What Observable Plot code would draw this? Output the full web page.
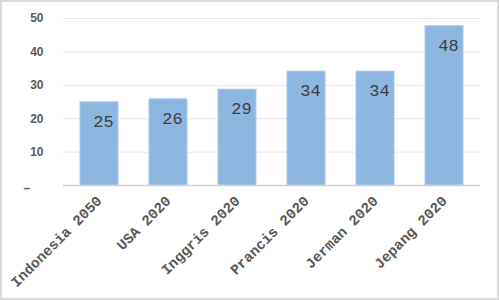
<!DOCTYPE html>
<html>
<head>
<meta charset="utf-8">
<script src="https://cdn.jsdelivr.net/npm/d3@7"></script>
<script src="https://cdn.jsdelivr.net/npm/@observablehq/plot@0.6"></script>
<style>
  html, body { margin: 0; padding: 0; background: #fff; }
  #wrap { position: relative; width: 499px; height: 300px; overflow: hidden; }
  #border { position: absolute; left: 0; top: 0; width: 499px; height: 300px; box-sizing: border-box; border: 2px solid #d9d9d9; pointer-events: none; }
  svg { display: block; }
</style>
</head>
<body>
<div id="wrap"><div id="chart"></div><div id="border"></div></div>
<script>
const categories = ["Indonesia 2050", "USA 2020", "Inggris 2020", "Prancis 2020", "Jerman 2020", "Jepang 2020"];
const values = [24.9, 25.8, 28.7, 34.1, 34.1, 47.7];
const yTicks = [10, 20, 30, 40, 50];
const zeroLabel = "–";

const data = categories.map((c, i) => ({cat: c, val: values[i]}));

const chart = Plot.plot({
  width: 499,
  height: 300,
  marginLeft: 63,
  marginRight: 19,
  marginTop: 18,
  marginBottom: 115,
  style: {background: "transparent", overflow: "visible"},
  x: {domain: categories, paddingInner: 0.45, paddingOuter: 0.225, label: null},
  y: {domain: [0, 50], label: null},
  marks: [
    Plot.gridY(yTicks, {stroke: "#e8e8e8", strokeOpacity: 1, strokeWidth: 1}),
    Plot.barY(data, {x: "cat", y: "val", fill: "#8db7e1", stroke: "#a9c9ea", strokeWidth: 1}),
    Plot.ruleY([0], {stroke: "#d0d0d0", strokeWidth: 1.5}),
    Plot.text(data, {x: "cat", y: "val", text: d => String(Math.round(d.val)), dy: 19, dx: 4,
      fontFamily: "Liberation Mono, monospace", fontSize: 17, fill: "#404040"}),
    Plot.axisY(yTicks, {tickSize: 0, tickPadding: 20, fontFamily: "Liberation Sans, Arial, sans-serif",
      fontSize: 12, fontWeight: "bold", fill: "#595959", label: null}),
    Plot.text([0], {y: d => d, frameAnchor: "left", dx: -40, dy: 3, text: () => zeroLabel, textAnchor: "start",
      fontFamily: "Liberation Sans, Arial, sans-serif", fontSize: 12, fontWeight: "bold", fill: "#595959"}),
    Plot.axisX({tickSize: 0, tickPadding: 13, tickRotate: -45, fontFamily: "Liberation Mono, monospace",
      fontSize: 14.5, fontWeight: "bold", fill: "#595959", label: null})
  ]
});
document.getElementById("chart").appendChild(chart);
</script>
</body>
</html>
